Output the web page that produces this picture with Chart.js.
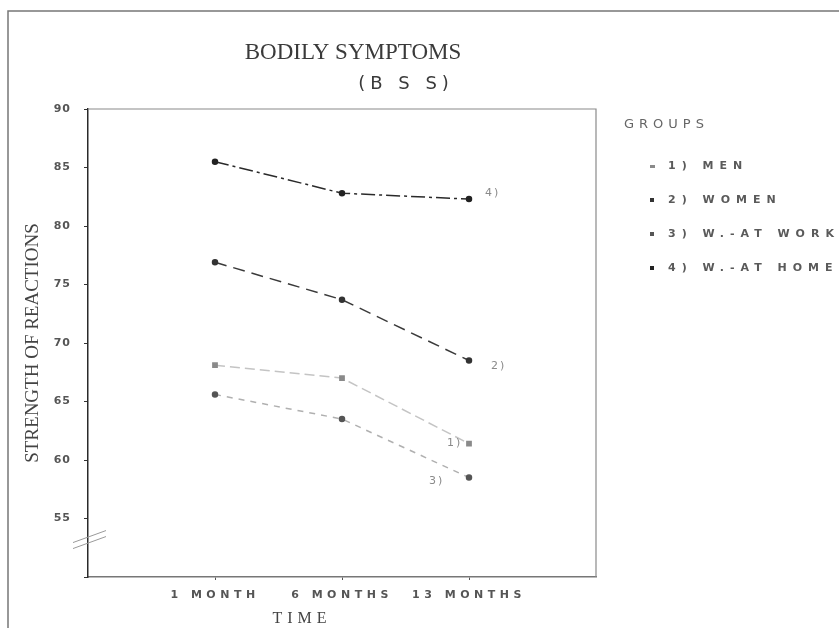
<!DOCTYPE html>
<html>
<head>
<meta charset="utf-8">
<script src="https://cdn.jsdelivr.net/npm/chart.js@4"></script>
<style>
  body { margin: 0; background: #fff; }
  canvas { display: block; }
</style>
</head>
<body>
<canvas id="myChart" width="839" height="628"></canvas>
<script>
// values
const categories = ['1 MONTH', '6 MONTHS', '13 MONTHS'];
const yTicks = [55, 60, 65, 70, 75, 80, 85, 90];
const men = [68.1, 67.0, 61.4];
const women = [76.9, 73.7, 68.5];
const atWork = [65.6, 63.5, 58.5];
const atHome = [85.5, 82.8, 82.3];
const groupNames = ['1) MEN', '2) WOMEN', '3) W.-AT WORK', '4) W.-AT HOME'];
const endTags = ['1)', '2)', '3)', '4)'];

// plotter style letter spacing, per axis
const spacing = {
    x: { ticks: '4.5px', title: '5px', titleShift: -40 },
    y: { ticks: '1px', title: '0px', titleShift: 0 }
};

class SpacedLinear extends Chart.LinearScale {
    drawLabels(area) {
        const c = this.ctx;
        c.save();
        c.letterSpacing = spacing[this.id].ticks;
        super.drawLabels(area);
        c.restore();
    }
    drawTitle() {
        const c = this.ctx;
        c.save();
        c.letterSpacing = spacing[this.id].title;
        c.translate(spacing[this.id].titleShift, 0);
        super.drawTitle();
        c.restore();
    }
}
SpacedLinear.id = 'spacedLinear';
SpacedLinear.defaults = Chart.LinearScale.defaults;
Chart.register(SpacedLinear);

const toPoints = vals => vals.map((v, i) => ({ x: i + 1, y: v }));

const series = [
    { label: groupNames[0], data: men, color: '#c4c4c4', dash: [10, 5], pt: 'rect', ptColor: '#8a8a8a', r: 3 },
    { label: groupNames[1], data: women, color: '#3a3a3a', dash: [12, 7], pt: 'circle', ptColor: '#333', r: 2.5 },
    { label: groupNames[2], data: atWork, color: '#b0b0b0', dash: [6, 6], pt: 'circle', ptColor: '#555', r: 2.5 },
    { label: groupNames[3], data: atHome, color: '#2a2a2a', dash: [14, 4, 3, 4], pt: 'circle', ptColor: '#222', r: 2.5 }
];

const tagOffsets = [[-22, 0], [22, 6], [-40, 4], [16, -6]];

const decor = {
    id: 'decor',
    afterDraw(chart) {
        const ctx = chart.ctx;
        const a = chart.chartArea;
        const ys = chart.scales.y;
        const xs = chart.scales.x;
        ctx.save();

        // scan frame
        ctx.strokeStyle = '#777';
        ctx.lineWidth = 1.5;
        ctx.beginPath();
        ctx.moveTo(8, 628);
        ctx.lineTo(8, 11);
        ctx.lineTo(839, 11);
        ctx.stroke();

        // top and right side of the plot box
        ctx.strokeStyle = '#8a8a8a';
        ctx.lineWidth = 1.2;
        ctx.beginPath();
        ctx.moveTo(a.left, a.top);
        ctx.lineTo(a.right, a.top);
        ctx.lineTo(a.right, a.bottom);
        ctx.stroke();

        // axis break mark
        const yb = ys.getPixelForValue(53.2);
        ctx.strokeStyle = '#9a9a9a';
        ctx.lineWidth = 1;
        for (const d of [-3, 3]) {
            ctx.beginPath();
            ctx.moveTo(a.left - 15, yb + d + 6);
            ctx.lineTo(a.left + 18, yb + d - 6);
            ctx.stroke();
        }

        // title
        ctx.fillStyle = '#3a3a3a';
        ctx.textAlign = 'center';
        ctx.textBaseline = 'alphabetic';
        ctx.font = '23px "Liberation Serif"';
        ctx.letterSpacing = '0px';
        ctx.fillText('BODILY SYMPTOMS', 353, 59);
        ctx.font = '18px "DejaVu Sans"';
        ctx.letterSpacing = '5px';
        ctx.fillText('(B S S)', 406, 89);

        // end tags next to last points
        ctx.font = '11px "DejaVu Sans"';
        ctx.letterSpacing = '2px';
        ctx.fillStyle = '#8a8a8a';
        ctx.textAlign = 'left';
        ctx.textBaseline = 'middle';
        series.forEach((s, i) => {
            const last = s.data.length - 1;
            const px = xs.getPixelForValue(last + 1);
            const py = ys.getPixelForValue(s.data[last]);
            ctx.fillText(endTags[i], px + tagOffsets[i][0], py + tagOffsets[i][1]);
        });

        // groups legend
        ctx.fillStyle = '#666';
        ctx.font = '13px "DejaVu Sans"';
        ctx.letterSpacing = '5px';
        ctx.textBaseline = 'alphabetic';
        ctx.fillText('GROUPS', 624, 128);
        ctx.font = 'bold 11px "DejaVu Sans"';
        ctx.letterSpacing = '6px';
        series.forEach((s, i) => {
            const ly = 165 + i * 34;
            ctx.fillStyle = s.ptColor;
            if (s.pt === 'rect') ctx.fillRect(650, ly, 5, 3);
            else ctx.fillRect(650, ly - 1, 4, 4);
            ctx.fillStyle = '#5a5a5a';
            ctx.fillText(s.label, 668, ly + 4);
        });
        ctx.restore();
    }
};

const ctx = document.getElementById('myChart').getContext('2d');
const myChart = new Chart(ctx, {
    type: 'line',
    data: {
        datasets: series.map(s => ({
            label: s.label,
            data: toPoints(s.data),
            borderColor: s.color,
            borderDash: s.dash,
            borderWidth: 1.5,
            pointStyle: s.pt,
            pointRadius: s.r,
            pointBackgroundColor: s.ptColor,
            pointBorderColor: s.ptColor,
            fill: false,
            tension: 0
        }))
    },
    options: {
        responsive: false,
        animation: false,
        layout: { padding: { top: 109, right: 243, left: 0, bottom: 0 } },
        plugins: {
            legend: { display: false },
            tooltip: { enabled: false }
        },
        scales: {
            x: {
                type: 'spacedLinear',
                min: 0,
                max: 4,
                afterBuildTicks: scale => { scale.ticks = categories.map((c, i) => ({ value: i + 1 })); },
                afterFit: scale => { scale.height = 51; scale.paddingLeft = 0; scale.paddingRight = 0; },
                ticks: {
                    callback: v => categories[v - 1] || '',
                    font: { family: 'DejaVu Sans', size: 11, weight: 'bold' },
                    color: '#555',
                    padding: 9,
                    maxRotation: 0,
                    autoSkip: false
                },
                grid: { drawOnChartArea: false, tickLength: 3, color: '#555' },
                border: { color: '#777', width: 1.5 },
                title: {
                    display: true,
                    text: 'TIME',
                    font: { family: 'Liberation Serif', size: 16 },
                    color: '#444',
                    padding: { top: 0, bottom: 0 }
                }
            },
            y: {
                type: 'spacedLinear',
                min: 50,
                max: 90,
                afterBuildTicks: scale => { scale.ticks = [50, ...yTicks].map(v => ({ value: v })); },
                afterFit: scale => { scale.width = 88; scale.paddingTop = 0; scale.paddingBottom = 0; },
                ticks: {
                    callback: v => (yTicks.includes(v) ? String(v) : ''),
                    font: { family: 'DejaVu Sans', size: 11, weight: 'bold' },
                    color: '#555',
                    padding: 13
                },
                grid: { drawOnChartArea: false, tickLength: 4, color: '#333' },
                border: { color: '#2a2a2a', width: 1.5 },
                title: {
                    display: true,
                    text: 'STRENGTH OF REACTIONS',
                    font: { family: 'Liberation Serif', size: 19 },
                    color: '#444',
                    padding: { top: 22, bottom: 0 }
                }
            }
        }
    },
    plugins: [decor]
});
</script>
</body>
</html>
